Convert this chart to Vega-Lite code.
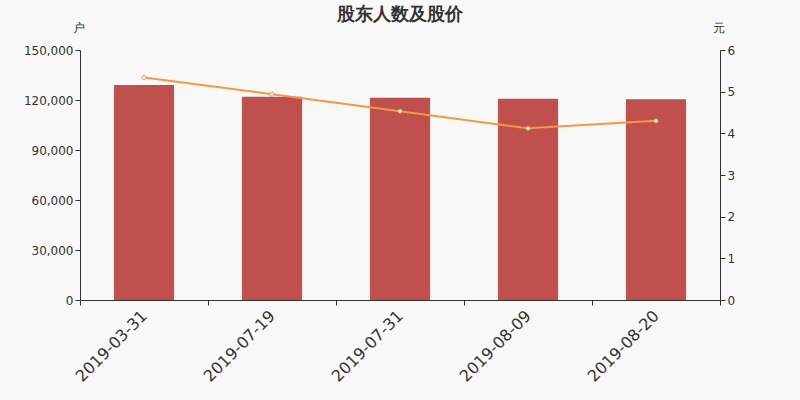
{
  "$schema": "https://vega.github.io/schema/vega-lite/v6.json",
  "width": 640,
  "height": 250,
  "autosize": {"type": "none"},
  "padding": {"left": 80, "top": 50, "right": 80, "bottom": 100},
  "background": "#f8f8f8",
  "title": {
    "text": "股东人数及股价",
    "anchor": "middle",
    "fontSize": 18,
    "fontWeight": "bold",
    "font": "DejaVu Sans",
    "color": "#333333",
    "offset": -3
  },
  "config": {
    "view": {"stroke": null},
    "font": "DejaVu Sans",
    "axis": {
      "grid": false,
      "domainColor": "#333333",
      "tickColor": "#333333",
      "labelColor": "#333333",
      "titleColor": "#333333",
      "labelFont": "DejaVu Sans",
      "titleFont": "DejaVu Sans"
    }
  },
  "data": {
    "values": [
      {"date": "2019-03-31", "holders": 129000, "price": 5.34},
      {"date": "2019-07-19", "holders": 122000, "price": 4.94},
      {"date": "2019-07-31", "holders": 121400, "price": 4.53},
      {"date": "2019-08-09", "holders": 120800, "price": 4.12},
      {"date": "2019-08-20", "holders": 120400, "price": 4.30}
    ]
  },
  "encoding": {
    "x": {
      "field": "date",
      "type": "nominal",
      "sort": null,
      "title": null,
      "scale": {"paddingInner": 0, "paddingOuter": 0},
      "axis": {
        "labelAngle": -45,
        "labelAlign": "right",
        "labelBaseline": "middle",
        "labelFontSize": 16,
        "labelPadding": 8,
        "tickBand": "extent",
        "tickSize": 5
      }
    }
  },
  "layer": [
    {
      "mark": {"type": "bar", "color": "#c0504d", "width": {"band": 0.47}},
      "encoding": {
        "y": {
          "field": "holders",
          "type": "quantitative",
          "scale": {"domain": [0, 150000]},
          "axis": {
            "title": "户",
            "titleAngle": 0,
            "titleX": -2,
            "titleY": -16,
            "titleAlign": "center",
            "titleFontSize": 12,
            "titleFontWeight": "normal",
            "values": [0, 30000, 60000, 90000, 120000, 150000],
            "format": ",d",
            "labelFontSize": 12,
            "tickSize": 5
          }
        }
      }
    },
    {
      "mark": {
        "type": "line",
        "color": "#f5964a",
        "strokeWidth": 2,
        "point": {"filled": true, "fill": "#ffffff", "stroke": "#f5964a", "strokeWidth": 1, "size": 16}
      },
      "encoding": {
        "y": {
          "field": "price",
          "type": "quantitative",
          "scale": {"domain": [0, 6]},
          "axis": {
            "orient": "right",
            "title": "元",
            "titleAngle": 0,
            "titleX": -2,
            "titleY": -16,
            "titleAlign": "center",
            "titleFontSize": 12,
            "titleFontWeight": "normal",
            "values": [0, 1, 2, 3, 4, 5, 6],
            "labelFontSize": 12,
            "tickSize": 5
          }
        }
      }
    }
  ],
  "resolve": {"scale": {"y": "independent"}}
}
